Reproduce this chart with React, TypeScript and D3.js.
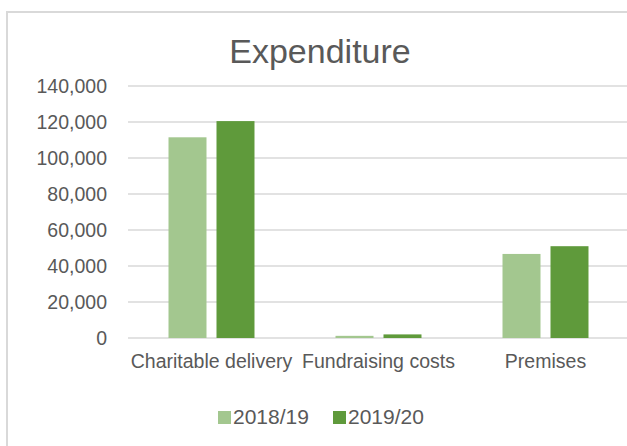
import React from "react";
import * as d3 from "d3";

const categories = ["Charitable delivery", "Fundraising costs", "Premises"];
const seriesNames = ["2018/19", "2019/20"];
const values2018 = [111500, 1200, 46700];
const values2019 = [120500, 2000, 51000];
const seriesColors = ["#a3c78f", "#5f9a3b"];
const yTicks = [0, 20000, 40000, 60000, 80000, 100000, 120000, 140000];

export default function App() {
  const W = 627, H = 446;
  const y = d3.scaleLinear().domain([0, 140000]).range([338, 86]);
  const x0 = d3.scaleBand<string>().domain(categories).range([128, 629]).padding(0);
  const x1 = d3
    .scaleBand<string>()
    .domain(seriesNames)
    .range([0, x0.bandwidth()])
    .paddingInner(10 / 48)
    .paddingOuter(0.844);
  const seriesValues = [values2018, values2019];
  const fmt = d3.format(",");
  const font = "'Liberation Sans', Arial, sans-serif";

  return (
    <svg
      width={W}
      height={H}
      style={{ position: "absolute", left: 0, top: 0, background: "#fff" }}
      fontFamily={font}
    >
      <rect x={7} y={12} width={660} height={450} fill="#fff" stroke="#d9d9d9" strokeWidth={2} />
      <text x={320} y={63} textAnchor="middle" fontSize={34} fill="#595959">
        Expenditure
      </text>
      {yTicks.map((t) => (
        <g key={t}>
          <line x1={128} x2={629} y1={y(t)} y2={y(t)} stroke="#d9d9d9" strokeWidth={1.5} />
          <text x={107} y={y(t)} dy="0.36em" textAnchor="end" fontSize={19.5} fill="#595959">
            {fmt(t)}
          </text>
        </g>
      ))}
      {categories.map((c, ci) => (
        <g key={c} transform={`translate(${x0(c)},0)`}>
          {seriesNames.map((s, si) => {
            const v = seriesValues[si][ci];
            return (
              <rect
                key={s}
                x={x1(s)}
                y={y(v)}
                width={x1.bandwidth()}
                height={y(0) - y(v)}
                fill={seriesColors[si]}
              />
            );
          })}
          <text
            x={x0.bandwidth() / 2}
            y={368}
            textAnchor="middle"
            fontSize={19.5}
            fill="#595959"
          >
            {c}
          </text>
        </g>
      ))}
      {seriesNames.map((s, si) => {
        const lx = [218, 333][si];
        return (
          <g key={s}>
            <rect x={lx} y={411} width={13} height={13} fill={seriesColors[si]} />
            <text x={lx + 15} y={424} fontSize={21} fill="#595959">
              {s}
            </text>
          </g>
        );
      })}
    </svg>
  );
}
